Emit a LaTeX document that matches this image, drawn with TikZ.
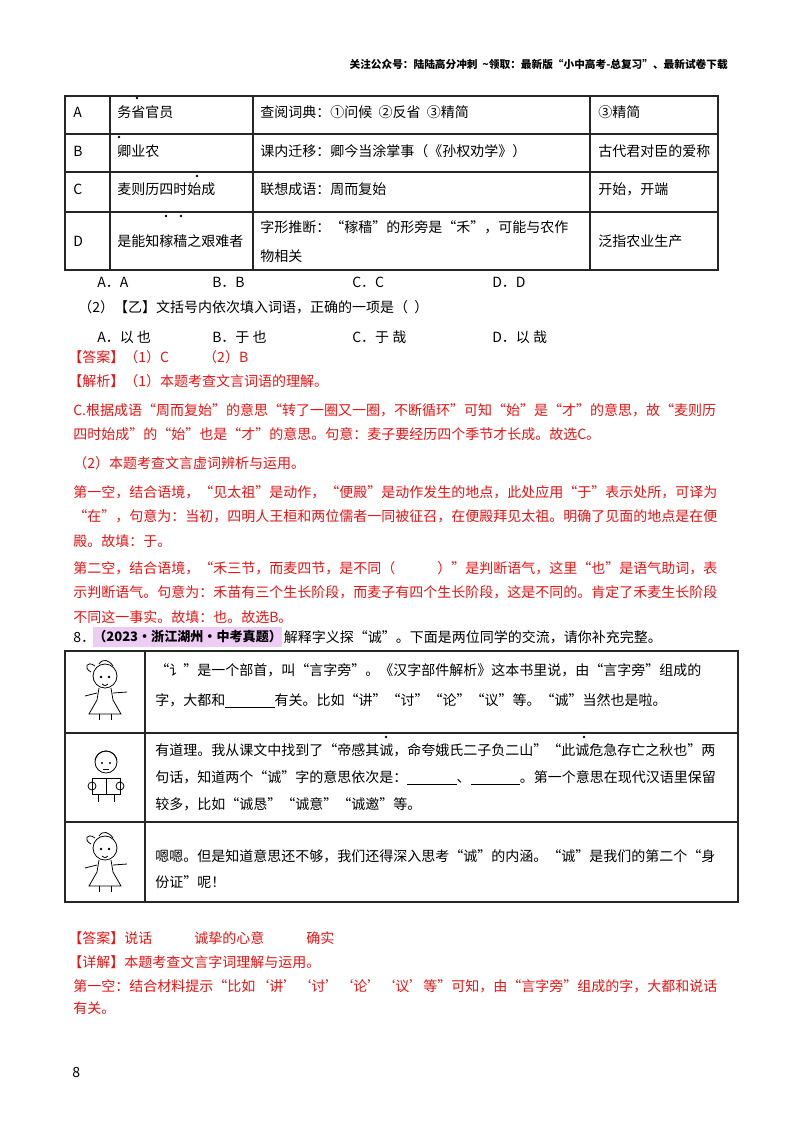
\documentclass[tikz,border=0pt]{standalone}
\usepackage{fontspec}
\newfontfamily\cjk{Noto Sans CJK SC}
\definecolor{ansred}{RGB}{232,20,20}
\definecolor{hlpink}{RGB}{238,205,245}
\begin{document}
\begin{tikzpicture}[x=0.75pt,y=-0.75pt,
  txt/.style={anchor=west,inner sep=0pt,font=\cjk\fontsize{10.5pt}{12pt}\selectfont},
  red/.style={txt,text=ansred},
  grid/.style={line width=1pt,draw=black!85},
  dotm/.style={fill=black,circle,inner sep=0pt,minimum size=2pt}]
\useasboundingbox (0,0) rectangle (800,1132);
\fill[white] (0,0) rectangle (800,1132);
% header
\node[anchor=east,inner sep=0pt,font=\cjk\bfseries\fontsize{8pt}{9pt}\selectfont] (hdr) at (728,64) {关注公众号：陆陆高分冲刺\ \ \textasciitilde 领取：最新版“小中高考-总复习”、最新试卷下载};
% table 1
\draw[grid] (65,96) rectangle (718,270);
\foreach \yy in {134,172,212} \draw[grid] (65,\yy) -- (718,\yy);
\foreach \xx in {110,253,590} \draw[grid] (\xx,96) -- (\xx,270);
\node[txt] (a1) at (73,112) {A};
\node[txt] (a2) at (117,112) {务省官员};
\node[txt] (a3) at (260,112) {查阅词典：①问候\ \ ②反省\ \ ③精简};
\node[txt] (a4) at (598,112) {③精简};
\node[txt] (b1) at (73,151) {B};
\node[txt] (b2) at (117,151) {卿业农};
\node[txt] (b3) at (260,151) {课内迁移：卿今当涂掌事（《孙权劝学》）};
\node[txt] (b4) at (598,151) {古代君对臣的爱称};
\node[txt] (c1) at (73,189) {C};
\node[txt] (c2) at (117,189) {麦则历四时始成};
\node[txt] (c3) at (260,189) {联想成语：周而复始};
\node[txt] (c4) at (598,189) {开始，开端};
\node[txt] (d1) at (73,241) {D};
\node[txt] (d2) at (117,241) {是能知稼穑之艰难者};
\node[txt] (d3) at (260,227) {字形推断：“稼穑”的形旁是“禾”，可能与农作};
\node[txt] (d3b) at (260,256) {物相关};
\node[txt] (d4) at (598,241) {泛指农业生产};
\node[dotm] (m1) at (137,98) {};
\node[dotm] (m2) at (119,137) {};
\node[dotm] (m3) at (197,176) {};
\node[dotm] (m4) at (166,216) {};
\node[dotm] (m5) at (181,216) {};
% options
\node[txt] (o1) at (97,282) {A．A};
\node[txt] (o2) at (212,282) {B．B};
\node[txt] (o3) at (352,282) {C．C};
\node[txt] (o4) at (492,282) {D．D};
\node[txt] (q2) at (78,307) {（2）【乙】文括号内依次填入词语，正确的一项是（\ \ ）};
\node[txt] (p1) at (97,337) {A．以\ 也};
\node[txt] (p2) at (212,337) {B．于\ 也};
\node[txt] (p3) at (352,337) {C．于\ 哉};
\node[txt] (p4) at (492,337) {D．以\ 哉};
% answer block
\node[red] (r1) at (68,357) {【答案】（1）C\qquad\ \ （2）B};
\node[red] (r2) at (68,381) {【解析】（1）本题考查文言词语的理解。};
\node[red] (r3) at (73,410) {C.根据成语“周而复始”的意思“转了一圈又一圈，不断循环”可知“始”是“才”的意思，故“麦则历};
\node[red] (r4) at (73,434) {四时始成”的“始”也是“才”的意思。句意：麦子要经历四个季节才长成。故选C。};
\node[red] (r5) at (73,463) {（2）本题考查文言虚词辨析与运用。};
\node[red] (r6) at (73,492) {第一空，结合语境，“见太祖”是动作，“便殿”是动作发生的地点，此处应用“于”表示处所，可译为};
\node[red] (r7) at (73,516) {“在”，句意为：当初，四明人王桓和两位儒者一同被征召，在便殿拜见太祖。明确了见面的地点是在便};
\node[red] (r8) at (73,541) {殿。故填：于。};
\node[red] (r9) at (73,568) {第二空，结合语境，“禾三节，而麦四节，是不同（\qquad\quad ）”是判断语气，这里“也”是语气助词，表};
\node[red] (r10) at (73,592) {示判断语气。句意为：禾苗有三个生长阶段，而麦子有四个生长阶段，这是不同的。肯定了禾麦生长阶段};
\node[red] (r11) at (73,617) {不同这一事实。故填：也。故选B。};
% question 8
\node[txt] (q8a) at (73,637) {8．};
\node[txt,fill=hlpink,inner ysep=3pt,font=\cjk\bfseries\fontsize{9.8pt}{12pt}\selectfont] (q8b) at (93,637) {（2023·浙江湖州·中考真题）};
\node[txt,anchor=west] (q8c) at ([xshift=1pt]q8b.east) {解释字义探“诚”。下面是两位同学的交流，请你补充完整。};
% table 2
\draw[grid] (65,651) rectangle (738,902);
\draw[grid] (65,733) -- (738,733);
\draw[grid] (65,822) -- (738,822);
\draw[grid] (145,651) -- (145,902);
\node[txt] (s1) at (155,670) {“讠”是一个部首，叫“言字旁”。《汉字部件解析》这本书里说，由“言字旁”组成的};
\node[txt] (s2) at (155,701) {字，大都和\underline{\hspace{37pt}}有关。比如“讲”“讨”“论”“议”等。“诚”当然也是啦。};
\node[txt] (s3) at (155,750) {有道理。我从课文中找到了“帝感其诚，命夸娥氏二子负二山”“此诚危急存亡之秋也”两};
\node[txt] (s4) at (155,778) {句话，知道两个“诚”字的意思依次是：\underline{\hspace{37pt}}、\underline{\hspace{37pt}}。第一个意思在现代汉语里保留};
\node[txt] (s5) at (155,804) {较多，比如“诚恳”“诚意”“诚邀”等。};
\node[txt] (s6) at (155,856) {嗯嗯。但是知道意思还不够，我们还得深入思考“诚”的内涵。“诚”是我们的第二个“身};
\node[txt] (s7) at (155,882) {份证”呢！};
\node[dotm] (m6) at (386,737) {};
\node[dotm] (m7) at (584,737) {};
% cartoons
\foreach \cx/\cy/\nm in {105/690/g1,105/862/g2}{
 \begin{scope}[shift={(\cx,\cy)},line width=0.6pt]
  \draw (0,-14) circle (12);
  \draw (-10,-24) .. controls (-18,-30) and (-22,-22) .. (-14,-18);
  \draw (-6,-26) .. controls (-2,-32) and (4,-30) .. (8,-24);
  \fill (-4,-13) circle (1.3); \fill (4,-13) circle (1.3);
  \draw (-3,-6) .. controls (0,-4) .. (3,-6);
  \draw (-6,-2) -- (-8,10) -- (-16,24) -- (16,24) -- (8,10) -- (6,-2);
  \draw (-8,3) -- (-20,6); \draw (8,3) -- (22,2);
  \draw (-6,24) -- (-6,30); \draw (6,24) -- (6,30);
 \end{scope}}
\begin{scope}[shift={(106,778)},line width=0.6pt]
  \draw (0,-16) circle (11);
  \draw (-11,-18) .. controls (-8,-30) and (8,-30) .. (11,-18);
  \fill (-4,-15) circle (1.2); \fill (4,-15) circle (1.2);
  \draw (-3,-9) -- (3,-9);
  \draw (-14,0) rectangle (14,16);
  \draw (0,0) -- (0,16);
  \draw (-14,8) circle (4); \draw (14,8) circle (4);
  \draw (-8,16) -- (-8,24); \draw (8,16) -- (8,24);
\end{scope}
% answer 8
\node[red] (u1) at (68,938) {【答案】说话\qquad\quad 诚挚的心意\qquad\quad 确实};
\node[red] (u2) at (68,962) {【详解】本题考查文言字词理解与运用。};
\node[red] (u3) at (73,986) {第一空：结合材料提示“比如‘讲’‘讨’‘论’‘议’等”可知，由“言字旁”组成的字，大都和说话};
\node[red] (u4) at (73,1008) {有关。};
\node[txt] (pg) at (72,1072) {8};
\end{tikzpicture}
\end{document}
